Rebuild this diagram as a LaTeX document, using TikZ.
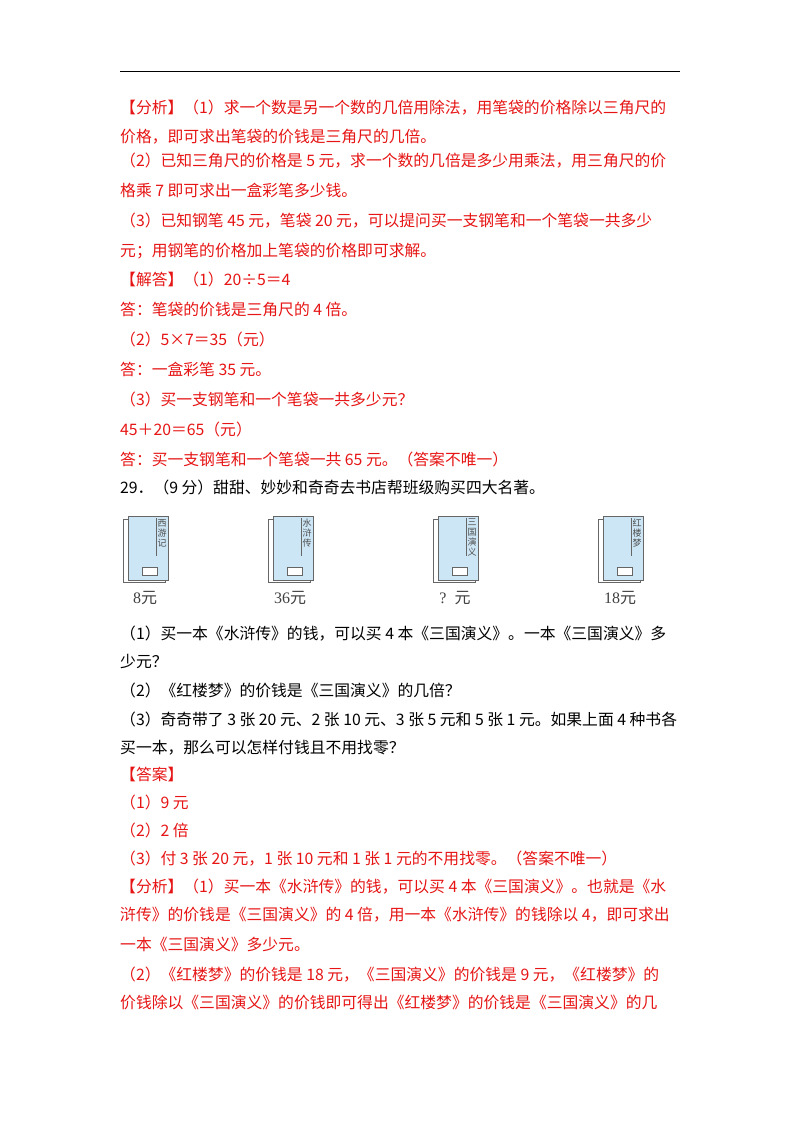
\documentclass[tikz,border=0pt]{standalone}
\usepackage{fontspec}
\setmainfont{Noto Sans CJK SC}
\newfontfamily\numfont{Liberation Serif}
\definecolor{ared}{RGB}{230,20,20}
\definecolor{bookblue}{RGB}{205,230,245}
\begin{document}
\begin{tikzpicture}[x=1pt,y=-1pt,
  ln/.style={anchor=base west,inner sep=0pt,font=\fontsize{15.8}{18}\selectfont},
  rd/.style={ln,text=ared},
  price/.style={inner sep=0pt,font=\fontsize{16}{18}\selectfont,text=black!75}]
\useasboundingbox (0,0) rectangle (800,1132);
\draw[line width=1pt] (120,72) -- (680,72);
\node[rd] (l1) at (120,113) {【分析】（1）求一个数是另一个数的几倍用除法，用笔袋的价格除以三角尺的};
\node[rd] (l2) at (120,142) {价格，即可求出笔袋的价钱是三角尺的几倍。};
\node[rd] (l3) at (120,166) {（2）已知三角尺的价格是 5 元，求一个数的几倍是多少用乘法，用三角尺的价};
\node[rd] (l4) at (120,196) {格乘 7 即可求出一盒彩笔多少钱。};
\node[rd] (l5) at (120,226) {（3）已知钢笔 45 元，笔袋 20 元，可以提问买一支钢笔和一个笔袋一共多少};
\node[rd] (l6) at (120,256) {元；用钢笔的价格加上笔袋的价格即可求解。};
\node[rd] (l7) at (120,285) {【解答】（1）20÷5＝4};
\node[rd] (l8) at (120,315) {答：笔袋的价钱是三角尺的 4 倍。};
\node[rd] (l9) at (120,345) {（2）5×7＝35（元）};
\node[rd] (l10) at (120,375) {答：一盒彩笔 35 元。};
\node[rd] (l11) at (120,405) {（3）买一支钢笔和一个笔袋一共多少元？};
\node[rd] (l12) at (120,435) {45＋20＝65（元）};
\node[rd] (l13) at (120,465) {答：买一支钢笔和一个笔袋一共 65 元。（答案不唯一）};
\node[ln] (l14) at (120,493) {29．（9 分）甜甜、妙妙和奇奇去书店帮班级购买四大名著。};
% books
\foreach \x/\t/\n [count=\i] in {123/西\\游\\记/8, 268/水\\浒\\传/36, 433/三\\国\\演\\义/?\ \ , 598/红\\楼\\梦/18}{
  \draw[black!60,fill=white] (\x,519) rectangle (\x+42,582);
  \draw[black!60,fill=bookblue] (\x+5,516) rectangle (\x+45,580);
  \draw[black!60] (\x+33,518) -- (\x+33,556);
  \draw[black!60,fill=white] (\x+19,567) rectangle (\x+34,575);
  \node[anchor=north,inner sep=0pt,align=center,font=\fontsize{9}{10}\selectfont,text=black!70] (t\i) at (\x+39,519) {\t};
  \node[price] (p\i) at (\x+22,598) {{\numfont\n}元};
}
\node[ln] (m1) at (120,639) {（1）买一本《水浒传》的钱，可以买 4 本《三国演义》。一本《三国演义》多};
\node[ln] (m2) at (120,667) {少元？};
\node[ln] (m3) at (120,696) {（2）《红楼梦》的价钱是《三国演义》的几倍？};
\node[ln] (m4) at (120,725) {（3）奇奇带了 3 张 20 元、2 张 10 元、3 张 5 元和 5 张 1 元。如果上面 4 种书各};
\node[ln] (m5) at (120,753) {买一本，那么可以怎样付钱且不用找零？};
\node[rd] (m6) at (120,780) {【答案】};
\node[rd] (m7) at (120,808) {（1）9 元};
\node[rd] (m8) at (120,836) {（2）2 倍};
\node[rd] (m9) at (120,864) {（3）付 3 张 20 元，1 张 10 元和 1 张 1 元的不用找零。（答案不唯一）};
\node[rd] (m10) at (120,892) {【分析】（1）买一本《水浒传》的钱，可以买 4 本《三国演义》。也就是《水};
\node[rd] (m11) at (120,920) {浒传》的价钱是《三国演义》的 4 倍，用一本《水浒传》的钱除以 4，即可求出};
\node[rd] (m12) at (120,950) {一本《三国演义》多少元。};
\node[rd] (m13) at (120,980) {（2）《红楼梦》的价钱是 18 元，《三国演义》的价钱是 9 元，《红楼梦》的};
\node[rd] (m14) at (120,1008) {价钱除以《三国演义》的价钱即可得出《红楼梦》的价钱是《三国演义》的几};
\end{tikzpicture}
\end{document}
